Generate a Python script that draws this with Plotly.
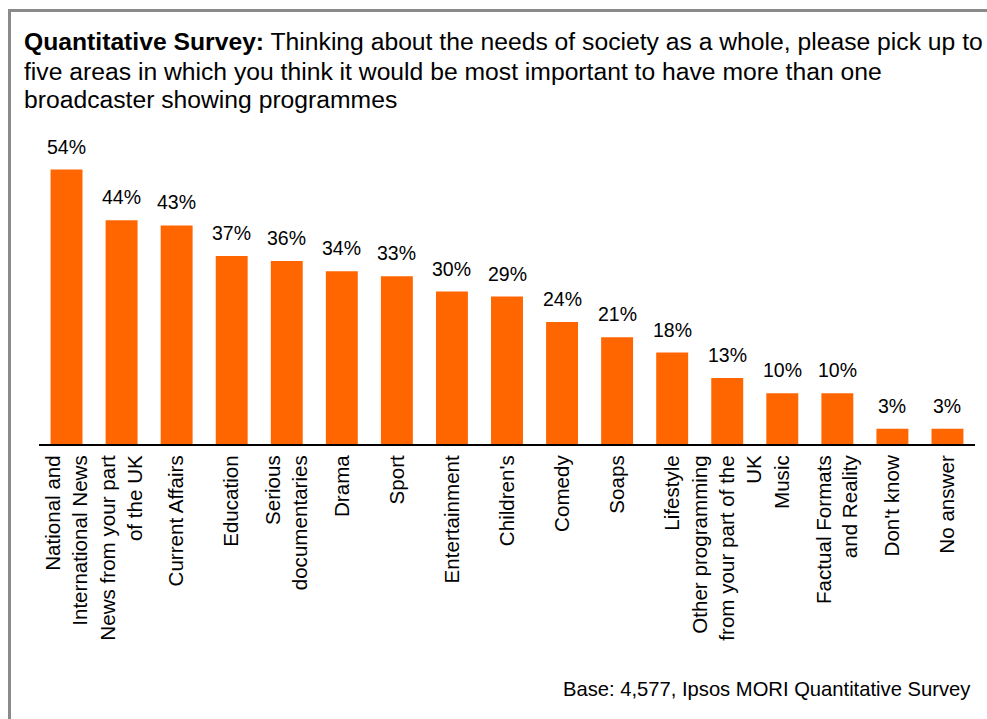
import plotly.graph_objects as go

# Survey answers, in chart order
categories = [
    "National and<br>International News",
    "News from your part<br>of the UK",
    "Current Affairs",
    "Education",
    "Serious<br>documentaries",
    "Drama",
    "Sport",
    "Entertainment",
    "Children's",
    "Comedy",
    "Soaps",
    "Lifestyle",
    "Other programming<br>from your part of the<br>UK",
    "Music",
    "Factual Formats<br>and Reality",
    "Don't know",
    "No answer",
]
values = [54, 44, 43, 37, 36, 34, 33, 30, 29, 24, 21, 18, 13, 10, 10, 3, 3]
value_labels = [f"{v}%" for v in values]

title_lines = [
    "<b>Quantitative Survey:</b> Thinking about the needs of society as a whole, please pick up to",
    "five areas in which you think it would be most important to have more than one",
    "broadcaster showing programmes",
]
footer = "Base: 4,577, Ipsos MORI Quantitative Survey"

W, H = 987, 719
M = dict(l=39, r=12, t=139, b=275)
PW = W - M["l"] - M["r"]
PH = H - M["t"] - M["b"]
FONT = "Arial, Liberation Sans, sans-serif"
ORANGE = "#FF6600"
GREY = "#8A8A8A"


def px_x(x):
    return (x - M["l"]) / PW


def px_y(y):
    return (H - M["b"] - y) / PH


fig = go.Figure(
    go.Bar(
        x=categories,
        y=values,
        marker=dict(color=ORANGE, line=dict(width=0)),
        hoverinfo="skip",
    )
)

annotations = []
# percentage labels above each bar
for c, v, t in zip(categories, values, value_labels):
    annotations.append(
        dict(
            x=c, y=v, xref="x", yref="y", text=t, showarrow=False,
            yanchor="middle", yshift=23,
            font=dict(family=FONT, size=19.5, color="#000000"),
        )
    )

# question text
title_y = [41, 71, 99]
for line, yy in zip(title_lines, title_y):
    annotations.append(
        dict(
            x=px_x(22), y=px_y(yy), xref="paper", yref="paper", text=line,
            showarrow=False, xanchor="left", yanchor="middle", align="left",
            font=dict(family=FONT, size=24.7, color="#000000"),
        )
    )

# source note
annotations.append(
    dict(
        x=px_x(973), y=px_y(689), xref="paper", yref="paper", text=footer,
        showarrow=False, xanchor="right", yanchor="middle",
        font=dict(family=FONT, size=20.2, color="#000000"),
    )
)

# frame lines along the top and left edges
shapes = [
    dict(type="line", xref="paper", yref="paper",
         x0=px_x(9.5), x1=px_x(W + 5), y0=px_y(10.5), y1=px_y(10.5),
         line=dict(color=GREY, width=3)),
    dict(type="line", xref="paper", yref="paper",
         x0=px_x(9.5), x1=px_x(9.5), y0=px_y(9), y1=px_y(H + 5),
         line=dict(color=GREY, width=3)),
]

fig.update_layout(
    width=W,
    height=H,
    margin=M,
    paper_bgcolor="white",
    plot_bgcolor="white",
    showlegend=False,
    bargap=0.42,
    font=dict(family=FONT, color="#000000"),
    annotations=annotations,
    shapes=shapes,
    xaxis=dict(
        type="category",
        range=[-0.5, len(categories) - 0.5],
        tickangle=-90,
        tickfont=dict(family=FONT, size=20.6, color="#000000"),
        showline=True,
        linecolor="#000000",
        linewidth=2,
        ticks="",
        showgrid=False,
        ticklabelstandoff=1,
        fixedrange=True,
    ),
    yaxis=dict(
        range=[0, 60],
        visible=False,
        showgrid=False,
        zeroline=False,
        fixedrange=True,
    ),
)

fig.write_html("out.html", config={"displayModeBar": False})
